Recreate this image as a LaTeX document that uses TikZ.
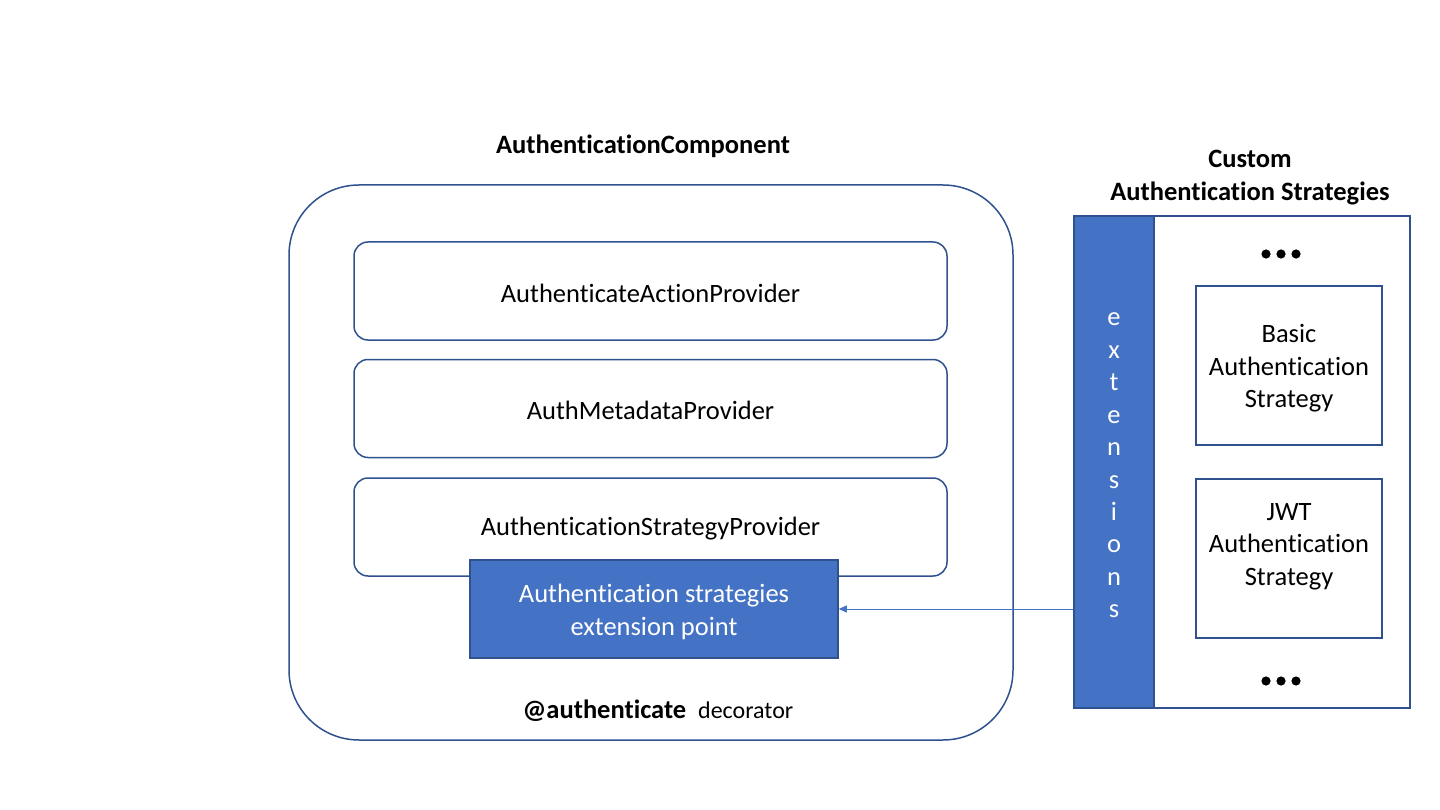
\documentclass[tikz,border=0pt]{standalone}
\usepackage{fontspec}
\setmainfont{Carlito}[Ligatures=NoCommon]
\usetikzlibrary{positioning,arrows.meta}
\definecolor{boxline}{HTML}{2F528F}
\definecolor{boxfill}{HTML}{4472C4}
\tikzset{
  provider/.style={draw=boxline, line width=1.5pt, rounded corners=14pt, minimum width=593pt, minimum height=98pt},
  provlabel/.style={font=\fontsize{26.5}{32}\selectfont},
  strategy/.style={draw=boxline, line width=1.5pt, minimum width=186pt, minimum height=159pt},
  stratlabel/.style={align=center, font=\fontsize{26.5}{32.5}\selectfont},
  heading/.style={font=\bfseries\fontsize{26.5}{33}\selectfont, align=center},
  bluebox/.style={draw=boxline, line width=1.5pt, fill=boxfill, text=white}
}
\begin{document}
\begin{tikzpicture}[x=1pt, y=-1pt]
\useasboundingbox[fill=white] (0,0) rectangle (1440,810);
\node[heading] (comptitle) at (643,146) {AuthenticationComponent};
\node[draw=boxline, line width=1.5pt, rounded corners=70pt, minimum width=724pt, minimum height=555pt] (component) at (651,462.5) {};
\node[provider] (actionprov) at (650.5,291) {};
\node[provider] (metaprov) at (650.5,408.5) {};
\node[provider] (stratprov) at (650.5,527) {};
\node[provlabel] (actionprovtext) at ([yshift=-2pt]actionprov.center) {AuthenticateActionProvider};
\node[provlabel] (metaprovtext) at ([yshift=-2pt]metaprov.center) {AuthMetadataProvider};
\node[provlabel] (stratprovtext) at ([yshift=-2pt]stratprov.center) {AuthenticationStrategyProvider};
\node[bluebox, minimum width=368pt, minimum height=98pt] (extpoint) at (654,609) {};
\node[text=white, align=center, font=\fontsize{26.5}{33}\selectfont] (extpointtext) at ([yshift=-3pt]extpoint.center) {Authentication strategies\\extension point};
\node[provlabel] (decorator) at (658,711) {\textbf{@authenticate}\ \ \fontsize{24}{30}\selectfont decorator};
\node[heading] (strattitle) at (1250,178) {Custom\\Authentication Strategies};
\node[draw=boxline, line width=1.5pt, minimum width=336pt, minimum height=492pt] (strategies) at (1242,462) {};
\node[bluebox, minimum width=80pt, minimum height=492pt] (extbar) at (1114,462) {};
\foreach \c [count=\i] in {e,x,t,e,n,s,i,o,n,s}
  \node[provlabel, text=white, anchor=base] (ext\i) at (1114,326+32.4*\i-32.4) {\c};
\node[strategy] (basic) at (1289,365.5) {};
\node[stratlabel] (basictext) at ([yshift=-3pt]basic.center) {Basic\\Authentication\\Strategy};
\node[strategy] (jwt) at (1289,558.5) {};
\node[stratlabel] (jwttext) at ([yshift=12pt]jwt.center) {JWT\\Authentication\\Strategy};
\foreach \y in {254,681}
  \foreach \x in {1266,1281,1296}
    \fill (\x,\y) circle (4.6pt);
\draw[boxfill, line width=0.8pt, -{Triangle[length=8pt,width=7pt]}] (extbar.west |- extpoint.east) -- (extpoint.east);
\end{tikzpicture}
\end{document}
